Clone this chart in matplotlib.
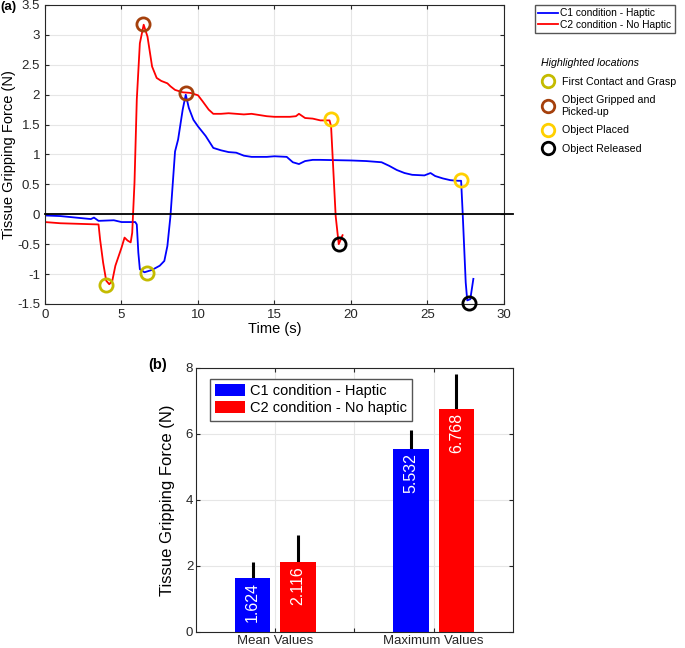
import numpy as np
import matplotlib.pyplot as plt
from matplotlib.lines import Line2D

plt.rcParams['font.family'] = ['Liberation Sans', 'DejaVu Sans']

# --- (a) force traces ---
t_c1 = [0, 1, 2, 3, 3.2, 3.5, 4.5, 5, 5.9, 6.0, 6.1, 6.2, 6.5, 7, 7.5, 7.8, 8.0, 8.2, 8.5,
        8.7, 9.0, 9.2, 9.4, 9.7, 10, 10.5, 11, 11.5, 12, 12.5, 13, 13.5, 14.5, 15, 15.8, 16.2,
        16.6, 17, 17.5, 18, 20, 21, 22, 22.5, 23, 23.5, 24, 24.8, 25.2, 25.5, 26, 26.5, 27,
        27.2, 27.3, 27.5, 27.6, 27.8, 28.0]
f_c1 = [-0.02, -0.03, -0.055, -0.08, -0.055, -0.11, -0.10, -0.13, -0.13, -0.17, -0.64, -0.92,
        -0.97, -0.93, -0.86, -0.78, -0.53, -0.03, 1.05, 1.25, 1.75, 2.0, 1.78, 1.58, 1.47,
        1.31, 1.11, 1.07, 1.04, 1.03, 0.98, 0.96, 0.96, 0.97, 0.96, 0.87, 0.84, 0.89, 0.91,
        0.91, 0.90, 0.89, 0.87, 0.81, 0.74, 0.69, 0.66, 0.65, 0.69, 0.64, 0.60, 0.57, 0.56,
        0.56, 0.03, -1.14, -1.44, -1.42, -1.08]

t_c2 = [0, 1, 3.5, 3.6, 3.8, 4.0, 4.2, 4.4, 4.6, 5.0, 5.2, 5.4, 5.6, 5.7, 5.85, 6.0, 6.2,
        6.45, 6.7, 7.0, 7.3, 7.6, 8.0, 8.2, 8.5, 9, 9.5, 10, 10.3, 10.7, 11, 11.5, 12, 13,
        13.5, 14.5, 15, 16, 16.4, 16.6, 17, 17.5, 18, 18.6, 18.7, 19.0, 19.2, 19.3, 19.45]
f_c2 = [-0.13, -0.15, -0.17, -0.42, -0.81, -1.11, -1.17, -1.11, -0.86, -0.56, -0.39, -0.44,
        -0.47, -0.31, 0.53, 1.92, 2.86, 3.17, 2.97, 2.47, 2.28, 2.23, 2.19, 2.14, 2.08, 2.04,
        2.03, 1.99, 1.89, 1.75, 1.68, 1.68, 1.69, 1.67, 1.68, 1.64, 1.63, 1.63, 1.64, 1.68,
        1.61, 1.60, 1.57, 1.57, 1.47, -0.03, -0.50, -0.44, -0.35]

# highlighted points: (time, force) for C1 and C2
contact_t, contact_f = [3.98, 6.66], [-1.19, -0.99]
gripped_t, gripped_f = [6.42, 9.19], [3.18, 2.03]
placed_t, placed_f = [18.68, 27.17], [1.59, 0.58]
released_t, released_f = [19.22, 27.69], [-0.50, -1.48]

# --- (b) bar chart ---
groups = ['Mean Values', 'Maximum Values']
c1_vals = [1.624, 5.532]
c2_vals = [2.116, 6.768]
c1_err = [0.51, 0.60]
c2_err = [0.82, 1.06]

blue = '#0000ff'
red = '#ff0000'
hl_colors = ['#c4bb00', '#a5400c', '#ffd000', '#000000']
hl_labels = ['First Contact and Grasp', 'Object Gripped and\nPicked-up',
             'Object Placed', 'Object Released']

fig = plt.figure(figsize=(6.85, 6.48), dpi=100)

ax1 = fig.add_axes([0.0657, 0.5309, 0.670, 0.4614])
ax1.plot(t_c1, f_c1, color=blue, lw=1.3, label='C1 condition - Haptic')
ax1.plot(t_c2, f_c2, color=red, lw=1.3, label='C2 condition - No Haptic')
ax1.plot([0, 30.6], [0, 0], color='black', lw=1.3, clip_on=False, zorder=3)

pts = [(contact_t, contact_f), (gripped_t, gripped_f), (placed_t, placed_f), (released_t, released_f)]
for (tt, ff), col in zip(pts, hl_colors):
    ax1.plot(tt, ff, ls='none', marker='o', ms=9.5, mfc='none', mec=col, mew=2, clip_on=False, zorder=4)

ax1.set_xlim(0, 30)
ax1.set_ylim(-1.5, 3.5)
ax1.set_xticks(np.arange(0, 31, 5))
yt = np.arange(-1.5, 3.51, 0.5)
ax1.set_yticks(yt)
ax1.set_yticklabels([('%g' % v) for v in yt])
ax1.set_xlabel('Time (s)', fontsize=10.5, labelpad=1)
ax1.set_ylabel('Tissue Gripping Force (N)', fontsize=10.5, labelpad=1)
ax1.grid(True, color='#e6e6e6', lw=0.8)
ax1.set_axisbelow(True)
ax1.tick_params(direction='in', labelsize=9.5, length=3, top=True, right=True, colors='#262626')
for s in ax1.spines.values():
    s.set_color('#262626')
    s.set_linewidth(0.8)

leg1 = fig.legend(handles=ax1.lines[:2], loc='upper left', bbox_to_anchor=(0.776, 0.997),
                  fontsize=7.4, handlelength=2.0, handletextpad=0.2, borderpad=0.3,
                  labelspacing=0.15, fancybox=False, edgecolor='#555555', framealpha=1,
                  borderaxespad=0.3)

hl_handles = [Line2D([], [], ls='none', marker='o', ms=9, mfc='none', mec=c, mew=2) for c in hl_colors]
leg2 = fig.legend(handles=hl_handles, labels=hl_labels, loc='upper left',
                  bbox_to_anchor=(0.776, 0.925), frameon=False, fontsize=7.7,
                  title='Highlighted locations', alignment='left',
                  title_fontproperties={'style': 'italic', 'size': 7.7},
                  handletextpad=0.7, labelspacing=0.8, handlelength=1.2)

fig.text(0.0, 0.998, '(a)', fontsize=9.5, fontweight='bold', va='top', ha='left')

# --- (b) ---
ax2 = fig.add_axes([0.2861, 0.0247, 0.4628, 0.4074])
x = np.arange(1, len(groups) + 1)
w = 0.225
off = 0.143
ax2.bar(x - off, c1_vals, w, color=blue, label='C1 condition - Haptic', zorder=2)
ax2.bar(x + off, c2_vals, w, color=red, label='C2 condition - No haptic', zorder=2)
ax2.errorbar(x - off, c1_vals, yerr=[np.zeros(len(c1_err)), c1_err], fmt='none',
             ecolor='black', elinewidth=2.2, capsize=0, zorder=1)
ax2.errorbar(x + off, c2_vals, yerr=[np.zeros(len(c2_err)), c2_err], fmt='none',
             ecolor='black', elinewidth=2.2, capsize=0, zorder=1)
for xs, vals in [(x - off, c1_vals), (x + off, c2_vals)]:
    for xi, v in zip(xs, vals):
        ax2.text(xi, v - 0.12, '%.3f' % v, rotation=90, color='white', fontsize=11.5,
                 ha='center', va='top', zorder=3)

ax2.set_xlim(0.5, 2.5)
ax2.set_ylim(0, 8)
ax2.set_xticks([1, 1.5, 2])
ax2.set_xticklabels(['Mean Values', '', 'Maximum Values'], fontsize=9.5)
ax2.set_yticks([0, 2, 4, 6, 8])
ax2.set_ylabel('Tissue Gripping Force (N)', fontsize=12, labelpad=8)
ax2.grid(True, color='#e6e6e6', lw=0.8)
ax2.set_axisbelow(True)
ax2.tick_params(direction='in', labelsize=9.5, length=3, top=True, right=True, colors='#262626', pad=2)
for s in ax2.spines.values():
    s.set_color('#262626')
    s.set_linewidth(0.8)
ax2.legend(loc='upper left', bbox_to_anchor=(0.02, 0.985), fontsize=10.5, handlelength=2.1,
           handleheight=0.9, handletextpad=0.3, borderpad=0.35, labelspacing=0.2,
           fancybox=False, edgecolor='#555555', framealpha=1)

fig.text(148 / 685, 1 - 358 / 648, '(b)', fontsize=10.5, fontweight='bold', va='top', ha='left')

plt.savefig('out.png', dpi=100)
